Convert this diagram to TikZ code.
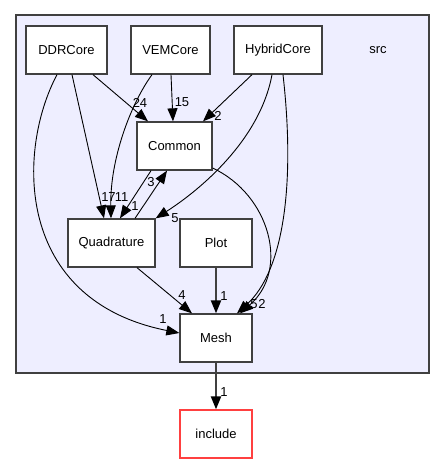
\documentclass[tikz,border=0pt]{standalone}
\usepackage{fontspec}
\setmainfont{Liberation Sans}
\usetikzlibrary{arrows.meta}

\begin{document}
\begin{tikzpicture}[x=1pt,y=-1pt,
           dir/.style={draw=black!75,line width=1.3pt,fill=white,minimum height=48pt,
             inner sep=0pt,font=\fontsize{13}{15}\selectfont},
           dep/.style={-{Triangle[length=13pt,width=10pt,black]},line width=0.9pt},
           depthick/.style={draw=black!75,-{Triangle[length=13pt,width=10pt,black]},line width=2.2pt},
           num/.style={inner sep=0pt,font=\fontsize{13}{15}\selectfont}]
           \useasboundingbox (0,0) rectangle (445,464);
           \draw[draw=black!75,fill={rgb,255:red,238;green,238;blue,255},line width=1.3pt] (16,15) rectangle (429,373);
           \node[num] (src) at (378,50) {src};
           \node[dir,minimum width=81pt] (ddr) at (66.5,50) {DDRCore};
           \node[dir,minimum width=79pt] (vem) at (170.5,50) {VEMCore};
           \node[dir,minimum width=88pt] (hyb) at (278,50) {HybridCore};
           \node[dir,minimum width=75pt] (common) at (174.5,146) {Common};
           \node[dir,minimum width=87pt] (quad) at (111.5,243) {Quadrature};
           \node[dir,minimum width=72pt] (plot) at (216,243) {Plot};
           \node[dir,minimum width=72pt] (mesh) at (216,338) {Mesh};
           \node[dir,minimum width=72pt,draw=red!75] (incl) at (216,434) {include};
           \draw[dep] ([xshift=26.5pt]ddr.south) -- ([xshift=-26.5pt]common.north);
           \node[num] (l24) at (140,103) {24};
           \draw[dep] ([xshift=5.5pt]ddr.south) -- ([xshift=-7.5pt]quad.north);
           \node[num] (l17) at (108.5,197) {17};
           \draw[dep] ([xshift=-9.5pt]ddr.south) .. controls (17,150) and (14,300) .. ([yshift=5pt]mesh.west);
           \node[num] (l1a) at (163,319) {1};
           \draw[dep] ([xshift=0.5pt]vem.south) -- ([xshift=-1.5pt]common.north);
           \node[num] (l15) at (182,102) {15};
           \draw[dep] ([xshift=-18.5pt]vem.south) .. controls (130,105) and (110,160) .. ([xshift=-0.5pt]quad.north);
           \node[num] (l11) at (121.5,197) {11};
           \draw[dep] ([xshift=-26pt]hyb.south) -- ([xshift=28.5pt]common.north);
           \node[num] (l2a) at (218,116) {2};
           \draw[dep] ([xshift=-6pt]hyb.south) .. controls (260,140) and (200,190) .. (quad.north east);
           \node[num] (l5a) at (175,218) {5};
           \draw[dep] ([xshift=5pt]hyb.south) .. controls (295,180) and (285,270) .. ([xshift=21pt]mesh.north);
           \node[num] (l2b) at (262,304) {2};
           \draw[dep] ([xshift=-23.5pt]common.south) -- ([xshift=8.5pt]quad.north);
           \node[num] (l3) at (151,182) {3};
           \draw[dep] ([xshift=23.5pt]quad.north) -- ([xshift=-7.5pt]common.south);
           \node[num] (l1b) at (135,206) {1};
           \draw[dep] ([yshift=-22pt]common.east) .. controls (270,195) and (290,270) .. ([xshift=24pt]mesh.north);
           \node[num] (l5b) at (254,304) {5};
           \draw[dep] ([xshift=25.5pt]quad.south) -- ([xshift=-24pt]mesh.north);
           \node[num] (l4) at (182,295) {4};
           \draw[depthick] (plot) -- (mesh);
           \node[num] (l1c) at (224,296) {1};
           \draw[depthick] (mesh) -- (incl);
           \node[num] (l1d) at (224,392) {1};
         \end{tikzpicture}
\end{document}
